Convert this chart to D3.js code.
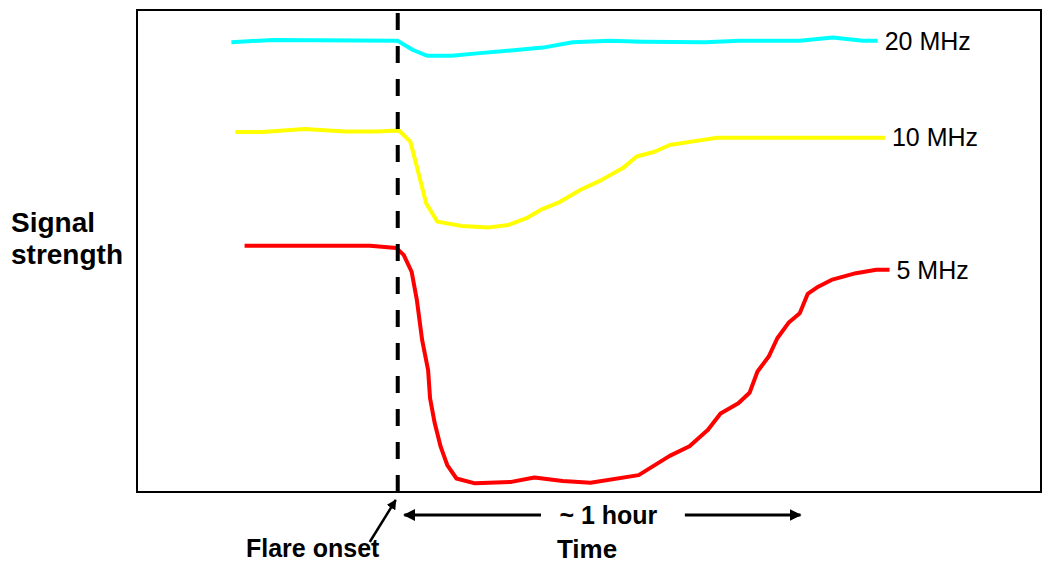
<!DOCTYPE html>
<html>
<head>
<meta charset="utf-8">
<script src="https://cdn.jsdelivr.net/npm/d3@7"></script>
<style>
  body { margin: 0; background: #fff; }
  text { font-family: "Liberation Sans", Arial, sans-serif; }
</style>
</head>
<body>
<div id="chart"></div>
<script>
// time in minutes after flare onset, signal in arbitrary units (0-100)
const t20 = [-25.2, -18.9, 0, 2.3, 4.5, 8.2, 12.0, 22.0, 26.5, 32.1, 37.1, 46.5, 51.8, 60.9, 65.9, 70.5, 72.7];
const v20 = [93.3, 93.8, 93.6, 91.7, 90.5, 90.5, 91.0, 92.2, 93.3, 93.6, 93.4, 93.3, 93.6, 93.6, 94.3, 93.6, 93.6];

const t10 = [-24.6, -20.5, -14.1, -8.0, -3.2, 0.2, 1.9, 2.9, 4.3, 6.0, 9.7, 13.8, 16.8, 19.5, 21.9, 24.6, 27.7, 30.7, 34.1, 36.2, 38.9, 41.2, 45.0, 48.4, 73.8];
const v10 = [74.7, 74.7, 75.3, 74.8, 74.8, 75.0, 72.7, 67.5, 59.9, 56.1, 55.2, 54.9, 55.4, 56.8, 58.7, 60.2, 62.7, 64.6, 67.2, 69.6, 70.6, 72.0, 72.8, 73.5, 73.5];

const t5 = [-23.2, -4.2, -0.2, 0.9, 2.1, 2.9, 3.7, 4.6, 4.9, 5.6, 6.5, 7.5, 8.9, 11.7, 17.2, 20.7, 25.0, 29.2, 36.5, 41.2, 44.2, 47.0, 48.9, 51.6, 53.3, 54.5, 56.2, 57.5, 59.2, 60.9, 62.1, 63.7, 65.7, 69.4, 72.5, 74.5];
const v5 = [51.1, 51.1, 50.6, 49.2, 45.7, 39.8, 31.5, 25.3, 19.4, 14.3, 9.4, 5.6, 2.8, 1.8, 2.1, 3.0, 2.3, 1.9, 3.5, 7.5, 9.5, 12.9, 16.3, 18.4, 20.6, 25.0, 28.1, 31.9, 35.1, 37.1, 41.1, 42.6, 44.0, 45.4, 46.1, 46.1];

const seriesNames = ["20 MHz", "10 MHz", "5 MHz"];
const seriesColors = ["#00ffff", "#ffff00", "#ff0000"];

const flareOnset = 0;
const hourStart = 1, hourEnd = 61;

function main() {
  let width = 1043, height = 565;
  let margin = ({top: 10, right: 1, bottom: 73, left: 137});

  let x = d3.scaleLinear()
    .domain([-39.5, 97.6])
    .range([margin.left, width - margin.right]);
  let y = d3.scaleLinear()
    .domain([0, 100])
    .range([height - margin.bottom, margin.top]);

  const svg = d3.select("#chart").append("svg")
    .attr("width", width)
    .attr("height", height);

  let series = [
    d3.zip(t20, v20),
    d3.zip(t10, v10),
    d3.zip(t5, v5)
  ];

  let line = d3.line()
    .x(d => x(d[0]))
    .y(d => y(d[1]));

  // plot frame
  svg.append("rect")
    .attr("x", margin.left)
    .attr("y", margin.top)
    .attr("width", width - margin.left - margin.right - 1)
    .attr("height", height - margin.top - margin.bottom)
    .attr("fill", "none")
    .attr("stroke", "#000")
    .attr("stroke-width", 2);

  svg.append("g")
    .selectAll("path")
    .data(series)
    .join("path")
    .attr("d", line)
    .attr("fill", "none")
    .attr("stroke", (d, i) => seriesColors[i])
    .attr("stroke-width", 4)
    .attr("stroke-linejoin", "round");

  svg.append("g")
    .selectAll("text")
    .data(series)
    .join("text")
    .attr("x", d => x(d[d.length - 1][0]) + 7)
    .attr("y", d => y(d[d.length - 1][1]))
    .attr("dy", "0.35em")
    .attr("font-size", 25)
    .attr("fill", "#000")
    .text((d, i) => seriesNames[i]);

  // flare onset marker
  svg.append("line")
    .attr("x1", x(flareOnset)).attr("x2", x(flareOnset))
    .attr("y1", y(0)).attr("y2", y(100))
    .attr("stroke", "#000")
    .attr("stroke-width", 4)
    .attr("stroke-dasharray", "17,16");

  let defs = svg.append("defs");
  defs.append("marker")
    .attr("id", "head")
    .attr("viewBox", "0 0 10 10")
    .attr("refX", 9).attr("refY", 5)
    .attr("markerWidth", 4).attr("markerHeight", 4)
    .attr("orient", "auto-start-reverse")
    .append("path")
    .attr("d", "M0,0L10,5L0,10z")
    .attr("fill", "#000");

  let arrowY = 515;
  svg.append("line")
    .attr("x1", x(21.7)).attr("x2", x(hourStart))
    .attr("y1", arrowY).attr("y2", arrowY)
    .attr("stroke", "#000").attr("stroke-width", 3)
    .attr("marker-end", "url(#head)");
  svg.append("line")
    .attr("x1", x(43.5)).attr("x2", x(hourEnd))
    .attr("y1", arrowY).attr("y2", arrowY)
    .attr("stroke", "#000").attr("stroke-width", 3)
    .attr("marker-end", "url(#head)");

  svg.append("text")
    .attr("x", x((hourStart + hourEnd) / 2) + 6)
    .attr("y", arrowY + 9)
    .attr("text-anchor", "middle")
    .attr("font-size", 25)
    .attr("font-weight", "bold")
    .text("~ 1 hour");

  svg.append("line")
    .attr("x1", x(flareOnset) - 28).attr("x2", x(flareOnset) - 2)
    .attr("y1", 542).attr("y2", 500)
    .attr("stroke", "#000").attr("stroke-width", 2.5)
    .attr("marker-end", "url(#head)");

  svg.append("text")
    .attr("x", 246)
    .attr("y", 557)
    .attr("font-size", 25)
    .attr("font-weight", "bold")
    .text("Flare onset");

  svg.append("text")
    .attr("x", 587)
    .attr("y", 558)
    .attr("text-anchor", "middle")
    .attr("font-size", 26)
    .attr("font-weight", "bold")
    .text("Time");

  let ylab = svg.append("text")
    .attr("x", 11)
    .attr("font-size", 28)
    .attr("font-weight", "bold");
  ylab.append("tspan").attr("x", 11).attr("y", 232).text("Signal");
  ylab.append("tspan").attr("x", 11).attr("y", 264).text("strength");
}

main();
</script>
</body>
</html>
